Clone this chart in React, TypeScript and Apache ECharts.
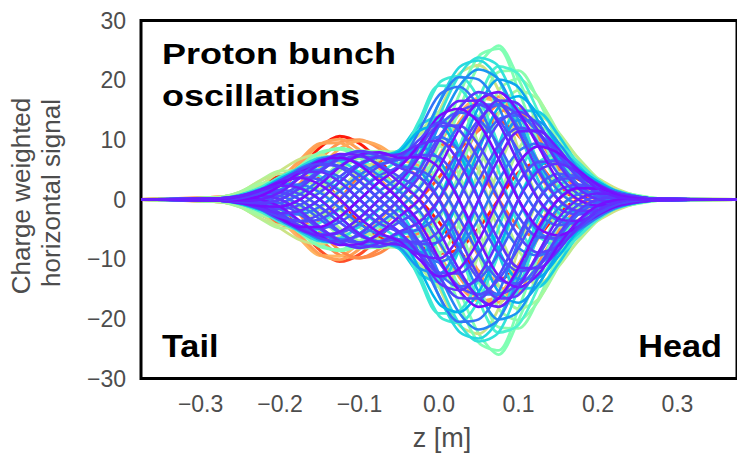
import React, { useEffect, useRef } from 'react';
import * as echarts from 'echarts';

// z positions along the bunch [m]
const zGrid = [-0.375, -0.275, -0.25, -0.225, -0.2, -0.175, -0.15, -0.125, -0.1, -0.075, -0.05, -0.025, 0, 0.025, 0.05, 0.075, 0.1, 0.125, 0.15, 0.175, 0.2, 0.225, 0.25, 0.275, 0.375];

// red traces (largest tail amplitude)
const rd1 = [0, -0.2, -0.4, 0, 1.7, 5, 8.7, 10.6, 9.4, 6.5, 3, 0, -3.8, -8.5, -12, -13.5, -11, -6.4, -2.3, 0, 0.8, 0.7, 0.4, 0.1, 0];
const rd2 = [0, 0.2, 0.4, 0, -1.6, -4.9, -8.5, -10.4, -9.2, -6.3, -2.9, 0, 3.7, 8.2, 11.6, 13.1, 10.7, 6.2, 2.2, 0, -0.8, -0.7, -0.4, -0.1, 0];
const rd3 = [0, -0.2, -0.9, -2.5, -4.1, -5, -3.6, 0, 3.9, 6.5, 7.2, 8, 9.2, 8.5, 4.9, 0, -4.6, -6.4, -5.5, -3.5, -1.8, -0.7, -0.2, 0, 0];
const rd4 = [0, 0.2, 0.9, 2.4, 4, 4.9, 3.5, 0, -3.8, -6.3, -7, -7.8, -9, -8.3, -4.8, 0, 4.5, 6.2, 5.4, 3.4, 1.8, 0.7, 0.2, 0, 0];
// orange traces
const or1 = [0, -0.4, -0.9, -1.1, 0, 2.7, 6.7, 9.5, 10, 8.5, 5.8, 3.8, 0, -5.9, -12.1, -16.1, -15.5, -10.6, -5.3, -1.6, 0, 0.4, 0.3, 0.1, 0];
const or2 = [0, -0.2, 0, 1.1, 3.4, 6.6, 9.4, 9.5, 7.1, 3.5, 0, -3.8, -9.2, -14.3, -17, -16.1, -11, -4.4, 0, 1.6, 1.6, 0.9, 0.4, 0.1, 0];
const or3 = [0, 0.4, 0.9, 1.1, 0, -2.6, -6.6, -9.3, -9.8, -8.3, -5.7, -3.7, 0, 5.8, 11.9, 15.8, 15.2, 10.4, 5.2, 1.6, 0, -0.4, -0.3, -0.1, 0];
const or4 = [0, 0.2, 0, -1.1, -3.4, -6.6, -9.4, -9.5, -7.1, -3.5, 0, 3.8, 9.2, 14.3, 17, 16.1, 11, 4.4, 0, -1.6, -1.6, -0.9, -0.4, -0.1, 0];
const or5 = [0, -0.2, -0.2, 0.6, 2.7, 6, 9.2, 10.1, 8.3, 5.2, 1.6, -2, -7.3, -12.9, -16.7, -17.2, -12.9, -6.4, -1.5, 0.8, 1.2, 0.8, 0.4, 0.1, 0];
const or6 = [0, -0.4, -1, -1.6, -1, 1.4, 5.3, 8.5, 9.8, 9, 6.8, 5.6, 2.6, -3.1, -9.5, -14.5, -15.2, -11.3, -6.2, -2.4, -0.4, 0.2, 0.2, 0.1, 0];
const or7 = [0, 0.2, 0.2, -0.6, -2.7, -6, -9.2, -10.1, -8.3, -5.2, -1.6, 2, 7.3, 12.9, 16.7, 17.2, 12.9, 6.4, 1.5, -0.8, -1.2, -0.8, -0.4, -0.1, 0];
const or8 = [0, 0.4, 1, 1.6, 1, -1.4, -5.3, -8.5, -9.8, -9, -6.8, -5.6, -2.6, 3.1, 9.5, 14.5, 15.2, 11.3, 6.2, 2.4, 0.4, -0.2, -0.2, -0.1, 0];

// green traces (largest head amplitude)
const gr1 = [0, 0.4, 1.2, 2.3, 2, 0, -3.1, -6.1, -7.7, -8.1, -7.6, -7.8, -6.1, 0, 9.3, 18.3, 20.2, 17, 10.6, 5, 1.4, 0, -0.3, -0.1, 0];
const gr2 = [0, 0.3, 0.5, 0, -2, -4.8, -7.5, -8.6, -7.7, -5.8, -3.2, 0, 6.1, 14.9, 22.5, 25.8, 20.2, 12.1, 4.4, 0, -1.4, -1.2, -0.6, -0.2, 0];
const gr3 = [0, 0, -0.5, -2.3, -4.8, -6.8, -7.5, -6.1, -3.2, 0, 3.2, 7.8, 14.7, 21, 22.5, 18.3, 8.4, 0, -4.4, -5, -3.5, -1.7, -0.6, -0.1, 0];
const gr4 = [0, -0.3, -1.2, -3.2, -4.8, -4.8, -3.1, 0, 3.2, 5.8, 7.6, 11, 14.7, 14.9, 9.3, 0, -8.4, -12.1, -10.6, -7, -3.5, -1.2, -0.3, 0, 0];
const gr5 = [0, -0.4, -1.2, -2.3, -2, 0, 3.1, 6.1, 7.7, 8.1, 7.6, 7.8, 6.1, 0, -9.3, -18.3, -20.2, -17, -10.6, -5, -1.4, 0, 0.3, 0.1, 0];
const gr6 = [0, -0.3, -0.5, 0, 2, 4.8, 7.5, 8.6, 7.7, 5.8, 3.2, 0, -6.1, -14.9, -22.5, -26, -20.2, -12.1, -4.4, 0, 1.4, 1.2, 0.6, 0.2, 0];
const gr7 = [0, 0, 0.5, 2.3, 4.8, 6.8, 7.5, 6.1, 3.2, 0, -3.2, -7.8, -14.7, -21, -22.5, -18.3, -8.4, 0, 4.4, 5, 3.5, 1.7, 0.6, 0.1, 0];
const gr8 = [0, 0.3, 1.2, 3.2, 4.8, 4.8, 3.1, 0, -3.2, -5.8, -7.6, -11, -14.7, -14.9, -9.3, 0, 8.4, 12.1, 10.6, 7, 3.5, 1.2, 0.3, 0, 0];
const gr9 = [0, 0.4, 1.1, 1.8, 1, -1.4, -4.5, -7.1, -8.2, -7.9, -6.9, -6.2, -3.2, 4.2, 13.7, 21.4, 21.6, 16.7, 9.5, 3.9, 0.8, -0.3, -0.4, -0.2, 0];
const gr10 = [0, 0.2, 0.3, -0.6, -2.9, -5.6, -7.9, -8.4, -7, -4.5, -1.7, 2.2, 9, 17.4, 24, 25.3, 18.3, 9.5, 2.3, -1.4, -2.1, -1.4, -0.7, -0.2, 0];
const gr11 = [0, 0.3, 1.3, 3.1, 4.3, 3.8, 1.6, -1.7, -4.7, -6.7, -8.1, -10.8, -13.3, -11.8, -4.9, 5.2, 12.3, 14.1, 11.3, 6.9, 3.2, 1, 0.1, 0, 0];
const gr12 = [0, 0.4, 1.3, 2.7, 2.9, 1.4, -1.6, -4.8, -7, -7.9, -8.1, -9.1, -9, -4.2, 4.9, 14.4, 18.3, 16.7, 11.3, 5.8, 2.1, 0.3, -0.1, -0.1, 0];
const gr13 = [0, -0.4, -1.1, -1.8, -1, 1.4, 4.5, 7.1, 8.2, 7.9, 6.9, 6.2, 3.2, -4.2, -13.7, -21.4, -21.6, -16.7, -9.5, -3.9, -0.8, 0.3, 0.4, 0.2, 0];
const gr14 = [0, -0.2, -0.3, 0.6, 2.9, 5.6, 7.9, 8.4, 7, 4.5, 1.7, -2.2, -9, -17.4, -24, -25.3, -18.3, -9.5, -2.3, 1.4, 2.1, 1.4, 0.7, 0.2, 0];
const gr15 = [0, -0.3, -1.3, -3.1, -4.3, -3.8, -1.6, 1.7, 4.7, 6.7, 8.1, 10.8, 13.3, 11.8, 4.9, -5.2, -12.3, -14.1, -11.3, -6.9, -3.2, -1, -0.1, 0, 0];
const gr16 = [0, -0.4, -1.3, -2.7, -2.9, -1.4, 1.6, 4.8, 7, 7.9, 8.1, 9.1, 9, 4.2, -4.9, -14.4, -18.3, -16.7, -11.3, -5.8, -2.1, -0.3, 0.1, 0.1, 0];

// cyan traces
const cy1 = [0, 0.2, 0.6, 0.8, 0, -2.1, -5, -7.2, -8, -7.2, -5.9, -5.1, 0, 8.6, 16.9, 22.3, 21, 14.7, 7.7, 2.4, 0, -0.5, -0.4, -0.1, 0];
const cy2 = [0, 0.1, 0, -0.8, -2.7, -5.1, -7, -7.2, -5.7, -3, 0, 5.1, 13.8, 20.7, 23.8, 22.3, 14.9, 6.1, 0, -2.4, -2.3, -1.3, -0.5, -0.1, 0];
const cy3 = [0, -0.1, -0.6, -1.8, -3.8, -5.1, -5, -3, 0, 3, 5.9, 12.4, 19.5, 20.7, 16.9, 9.2, 0, -6.1, -7.7, -5.9, -3.3, -1.3, -0.4, 0, 0];
const cy4 = [0, -0.2, -0.8, -1.8, -2.7, -2.1, 0, 3, 5.7, 7.2, 8.3, 12.4, 13.8, 8.6, 0, -9.2, -14.9, -14.7, -10.8, -5.9, -2.3, -0.5, 0, 0, 0];
const cy5 = [0, -0.2, -0.6, -0.8, 0, 2.1, 5, 7.2, 8, 7.2, 5.9, 5.1, 0, -8.6, -16.9, -22.3, -21, -14.7, -7.7, -2.4, 0, 0.5, 0.4, 0.1, 0];
const cy6 = [0, -0.1, 0, 0.8, 2.7, 5.1, 7, 7.2, 5.7, 3, 0, -5.1, -13.8, -20.7, -23.8, -22.3, -14.9, -6.1, 0, 2.4, 2.3, 1.3, 0.5, 0.1, 0];
const cy7 = [0, 0.1, 0.6, 1.8, 3.8, 5.1, 5, 3, 0, -3, -5.9, -12.4, -19.5, -20.7, -16.9, -9.2, 0, 6.1, 7.7, 5.9, 3.3, 1.3, 0.4, 0, 0];
const cy8 = [0, 0.2, 0.8, 1.8, 2.7, 2.1, 0, -3, -5.7, -7.2, -8.3, -12.4, -13.8, -8.6, 0, 9.2, 14.9, 14.7, 10.8, 5.9, 2.3, 0.5, 0, 0, 0];
const cy9 = [0, 0, -0.2, -1.1, -3.2, -5.4, -6.9, -6.5, -4.5, -1.6, 1.7, 7.6, 16.2, 22.1, 23.3, 20.1, 11.8, 3.2, -2.2, -3.6, -2.7, -1.4, -0.5, -0.1, 0];
const cy10 = [0, -0.1, -0.7, -2, -3.7, -4.6, -3.9, -1.6, 1.6, 4.4, 6.9, 13.2, 19.1, 18.7, 13.3, 4.8, -4.2, -9, -9, -6.3, -3.2, -1.2, -0.3, 0, 0];
const cy11 = [0, 0, 0.2, 1.1, 3.2, 5.4, 6.9, 6.5, 4.5, 1.6, -1.7, -7.6, -16.2, -22.1, -23.3, -20.1, -11.8, -3.2, 2.2, 3.6, 2.7, 1.4, 0.5, 0.1, 0];
const cy12 = [0, 0.1, 0.7, 2, 3.7, 4.6, 3.9, 1.6, -1.6, -4.4, -6.9, -13.2, -19.1, -18.7, -13.3, -4.8, 4.2, 9, 9, 6.3, 3.2, 1.2, 0.3, 0, 0];

// blue traces
const bl1 = [0, 0.2, 0.6, 1.3, 1.3, 0, -2.6, -5.5, -7.4, -7.8, -7.4, -8.9, -6.7, 0, 8.3, 15.5, 17.3, 14.2, 8.8, 4, 1.1, 0, -0.2, -0.1, 0];
const bl2 = [0, 0.2, 0.5, 0.7, 0, -2, -4.8, -7.2, -8, -7.2, -5.7, -4.8, 0, 7.8, 15.5, 20.1, 18.8, 13.1, 6.8, 2.1, 0, -0.5, -0.4, -0.1, 0];
const bl3 = [0, 0.1, 0, -0.7, -2.5, -4.8, -6.8, -7.2, -5.7, -3, 0, 4.8, 12.4, 18.9, 21.8, 20.1, 13.3, 5.4, 0, -2.1, -2.1, -1.2, -0.5, -0.1, 0];
const bl4 = [0, 0, -0.3, -1.3, -3.2, -5.2, -6.3, -5.5, -3, 0, 3, 8.9, 16.1, 20.5, 20.1, 15.5, 7.1, 0, -3.6, -4, -2.8, -1.3, -0.5, -0.1, 0];
const bl5 = [0, -0.1, -0.5, -1.7, -3.5, -4.8, -4.8, -3, 0, 3, 5.7, 11.5, 17.5, 18.9, 15.5, 8.3, 0, -5.4, -6.8, -5.2, -3, -1.2, -0.4, 0, 0];
const bl6 = [0, -0.2, -0.7, -1.7, -2.5, -2, 0, 3, 5.7, 7.2, 8, 11.5, 12.4, 7.8, 0, -8.3, -13.3, -13.1, -9.6, -5.2, -2.1, -0.5, 0, 0, 0];
const bl7 = [0, -0.2, -0.6, -1.3, -1.3, 0, 2.6, 5.5, 7.4, 7.8, 7.4, 8.9, 6.7, 0, -8.3, -15.5, -17.3, -14.2, -8.8, -4, -1.1, 0, 0.2, 0.1, 0];
const bl8 = [0, -0.2, -0.5, -0.7, 0, 2, 4.8, 7.2, 8, 7.2, 5.7, 4.8, 0, -7.8, -15.5, -20.1, -18.8, -13.1, -6.8, -2.1, 0, 0.5, 0.4, 0.1, 0];
const bl9 = [0, -0.1, 0, 0.7, 2.5, 4.8, 6.8, 7.2, 5.7, 3, 0, -4.8, -12.4, -18.9, -21.8, -20.1, -13.3, -5.4, 0, 2.1, 2.1, 1.2, 0.5, 0.1, 0];
const bl10 = [0, 0, 0.3, 1.3, 3.2, 5.2, 6.3, 5.5, 3, 0, -3, -8.9, -16.1, -20.5, -20.1, -15.5, -7.1, 0, 3.6, 4, 2.8, 1.3, 0.5, 0.1, 0];
const bl11 = [0, 0.1, 0.5, 1.7, 3.5, 4.8, 4.8, 3, 0, -3, -5.7, -11.5, -17.5, -18.9, -15.5, -8.3, 0, 5.4, 6.8, 5.2, 3, 1.2, 0.4, 0, 0];
const bl12 = [0, 0.2, 0.7, 1.7, 2.5, 2, 0, -3, -5.7, -7.2, -8, -11.5, -12.4, -7.8, 0, 8.3, 13.3, 13.1, 9.6, 5.2, 2.1, 0.5, 0, 0, 0];

// blue-violet traces (intermediate phases)
const hp1 = [0, 0.2, 0.4, 0.8, 0.6, -0.9, -3.3, -5.6, -7.2, -7, -5.6, -5, -2.5, 3, 9.1, 13.4, 14.1, 11.1, 6.4, 2.5, 0.5, -0.2, -0.2, -0.1, 0];
const hp2 = [0, 0.2, 0.3, 0.3, -0.6, -2.5, -4.9, -6.7, -7.2, -5.9, -3.8, -1.8, 2.5, 8.3, 13.4, 15.9, 14.1, 9.4, 4.3, 0.9, -0.5, -0.6, -0.3, -0.1, 0];
const hp3 = [0, 0.1, 0.1, -0.3, -1.6, -3.7, -5.8, -6.7, -6.1, -4, -1.4, 1.8, 7.1, 12.4, 15.9, 15.9, 12, 6.3, 1.5, -0.9, -1.3, -0.8, -0.4, -0.1, 0];
const hp4 = [0, 0, -0.1, -0.8, -2.4, -4.4, -5.8, -5.6, -4.1, -1.4, 1.4, 5, 10.5, 14.6, 15.9, 13.4, 8.1, 2.3, -1.5, -2.5, -1.9, -1, -0.4, -0.1, 0];
const hp5 = [0, 0, -0.3, -1.2, -2.8, -4.4, -4.9, -3.8, -1.5, 1.4, 3.8, 7.5, 12.3, 14.6, 13.4, 9.1, 2.9, -2.3, -4.3, -3.7, -2.3, -1, -0.3, -0.1, 0];
const hp6 = [0, -0.1, -0.4, -1.4, -2.8, -3.7, -3.3, -1.4, 1.5, 4, 5.6, 8.8, 12.3, 12.4, 9.1, 3.2, -2.9, -6.3, -6.4, -4.4, -2.3, -0.8, -0.2, 0, 0];
const hp7 = [0, -0.2, -0.5, -1.4, -2.4, -2.5, -1.2, 1.4, 4.1, 5.9, 6.7, 8.8, 10.5, 8.3, 3.2, -3.2, -8.1, -9.4, -7.5, -4.4, -1.9, -0.6, -0.1, 0, 0];
const hp8 = [0, -0.2, -0.5, -1.2, -1.6, -0.9, 1.2, 3.8, 6.1, 7, 6.7, 7.5, 7.1, 3, -3.2, -9.1, -12, -11.1, -7.5, -3.7, -1.3, -0.2, 0.1, 0.1, 0];
const hp9 = [0, -0.2, -0.4, -0.8, -0.6, 0.9, 3.3, 5.6, 7.2, 7, 5.6, 5, 2.5, -3, -9.1, -13.4, -14.1, -11.1, -6.4, -2.5, -0.5, 0.2, 0.2, 0.1, 0];
const hp10 = [0, -0.2, -0.3, -0.3, 0.6, 2.5, 4.9, 6.7, 7.2, 5.9, 3.8, 1.8, -2.5, -8.3, -13.4, -15.9, -14.1, -9.4, -4.3, -0.9, 0.5, 0.6, 0.3, 0.1, 0];
const hp11 = [0, -0.1, -0.1, 0.3, 1.6, 3.7, 5.8, 6.7, 6.1, 4, 1.4, -1.8, -7.1, -12.4, -15.9, -15.9, -12, -6.3, -1.5, 0.9, 1.3, 0.8, 0.4, 0.1, 0];
const hp12 = [0, 0, 0.1, 0.8, 2.4, 4.4, 5.8, 5.6, 4.1, 1.4, -1.4, -5, -10.5, -14.6, -15.9, -13.4, -8.1, -2.3, 1.5, 2.5, 1.9, 1, 0.4, 0.1, 0];
const hp13 = [0, 0, 0.3, 1.2, 2.8, 4.4, 4.9, 3.8, 1.5, -1.4, -3.8, -7.5, -12.3, -14.6, -13.4, -9.1, -2.9, 2.3, 4.3, 3.7, 2.3, 1, 0.3, 0.1, 0];
const hp14 = [0, 0.1, 0.4, 1.4, 2.8, 3.7, 3.3, 1.4, -1.5, -4, -5.6, -8.8, -12.3, -12.4, -9.1, -3.2, 2.9, 6.3, 6.4, 4.4, 2.3, 0.8, 0.2, 0, 0];
const hp15 = [0, 0.2, 0.5, 1.4, 2.4, 2.5, 1.2, -1.4, -4.1, -5.9, -6.7, -8.8, -10.5, -8.3, -3.2, 3.2, 8.1, 9.4, 7.5, 4.4, 1.9, 0.6, 0.1, 0, 0];
const hp16 = [0, 0.2, 0.5, 1.2, 1.6, 0.9, -1.2, -3.8, -6.1, -7, -6.7, -7.5, -7.1, -3, 3.2, 9.1, 12, 11.1, 7.5, 3.7, 1.3, 0.2, -0.1, -0.1, 0];

// purple traces (drawn last, on top)
const pu1 = [0, 0.2, 0.6, 1.1, 1.2, 0, -2.5, -5.4, -7.5, -7.9, -7, -7.1, -5.3, 0, 6.8, 12.8, 14.7, 12.5, 7.8, 3.6, 1, 0, -0.2, -0.1, 0];
const pu2 = [0, 0.2, 0.4, 0.6, 0, -1.9, -4.6, -7, -8.1, -7.3, -5.4, -3.8, 0, 6.3, 12.8, 16.6, 16, 11.5, 6, 1.9, 0, -0.4, -0.3, -0.1, 0];
const pu3 = [0, 0.1, 0.2, 0, -1.2, -3.6, -6, -7.6, -7.5, -5.6, -2.9, 0, 5.3, 11.7, 16.6, 18, 14.7, 8.9, 3.2, 0, -1, -0.8, -0.4, -0.1, 0];
const pu4 = [0, 0.1, 0, -0.6, -2.3, -4.6, -6.5, -7, -5.8, -3, 0, 3.8, 9.9, 15.2, 18, 16.6, 11.4, 4.8, 0, -1.9, -1.8, -1, -0.4, -0.1, 0];
const pu5 = [0, 0, -0.2, -1.1, -2.9, -5, -6, -5.4, -3.1, 0, 2.9, 7.1, 12.9, 16.5, 16.6, 12.8, 6.1, 0, -3.2, -3.6, -2.4, -1.1, -0.4, -0.1, 0];
const pu6 = [0, -0.1, -0.4, -1.5, -3.2, -4.6, -4.6, -2.9, 0, 3, 5.4, 9.2, 14, 15.2, 12.8, 6.8, 0, -4.8, -6, -4.6, -2.6, -1, -0.3, 0, 0];
const pu7 = [0, -0.1, -0.6, -1.6, -2.9, -3.6, -2.5, 0, 3.1, 5.6, 7, 10, 12.9, 11.7, 6.8, 0, -6.1, -8.9, -7.8, -5, -2.4, -0.8, -0.2, 0, 0];
const pu8 = [0, -0.2, -0.6, -1.5, -2.3, -1.9, 0, 2.9, 5.8, 7.3, 7.6, 9.2, 9.9, 6.3, 0, -6.8, -11.4, -11.5, -8.5, -4.6, -1.8, -0.4, 0, 0, 0];
const pu9 = [0, -0.2, -0.6, -1.1, -1.2, 0, 2.5, 5.4, 7.5, 7.9, 7, 7.1, 5.3, 0, -6.8, -12.8, -14.7, -12.5, -7.8, -3.6, -1, 0, 0.2, 0.1, 0];
const pu10 = [0, -0.2, -0.4, -0.6, 0, 1.9, 4.6, 7, 8.1, 7.3, 5.4, 3.8, 0, -6.3, -12.8, -16.6, -16, -11.5, -6, -1.9, 0, 0.4, 0.3, 0.1, 0];
const pu11 = [0, -0.1, -0.2, 0, 1.2, 3.6, 6, 7.6, 7.5, 5.6, 2.9, 0, -5.3, -11.7, -16.6, -18, -14.7, -8.9, -3.2, 0, 1, 0.8, 0.4, 0.1, 0];
const pu12 = [0, -0.1, 0, 0.6, 2.3, 4.6, 6.5, 7, 5.8, 3, 0, -3.8, -9.9, -15.2, -18, -16.6, -11.4, -4.8, 0, 1.9, 1.8, 1, 0.4, 0.1, 0];
const pu13 = [0, 0, 0.2, 1.1, 2.9, 5, 6, 5.4, 3.1, 0, -2.9, -7.1, -12.9, -16.5, -16.6, -12.8, -6.1, 0, 3.2, 3.6, 2.4, 1.1, 0.4, 0.1, 0];
const pu14 = [0, 0.1, 0.4, 1.5, 3.2, 4.6, 4.6, 2.9, 0, -3, -5.4, -9.2, -14, -15.2, -12.8, -6.8, 0, 4.8, 6, 4.6, 2.6, 1, 0.3, 0, 0];
const pu15 = [0, 0.1, 0.6, 1.6, 2.9, 3.6, 2.5, 0, -3.1, -5.6, -7, -10, -12.9, -11.7, -6.8, 0, 6.1, 8.9, 7.8, 5, 2.4, 0.8, 0.2, 0, 0];
const pu16 = [0, 0.2, 0.6, 1.5, 2.3, 1.9, 0, -2.9, -5.8, -7.3, -7.6, -9.2, -9.9, -6.3, 0, 6.8, 11.4, 11.5, 8.5, 4.6, 1.8, 0.4, 0, 0, 0];

const xTickValues = [-0.3, -0.2, -0.1, 0, 0.1, 0.2, 0.3];

// drawing order: red first, purple last
const traces: { vals: number[]; color: string; w: number }[] = [
  { vals: rd1, color: '#ff1a0a', w: 3 },
  { vals: rd2, color: '#ff4f28', w: 3 },
  { vals: rd3, color: '#ff743b', w: 3 },
  { vals: rd4, color: '#ff2814', w: 3 },
  { vals: or1, color: '#ff964f', w: 3 },
  { vals: or2, color: '#ffa458', w: 3 },
  { vals: or3, color: '#ff8a48', w: 3 },
  { vals: or4, color: '#ffb462', w: 3 },
  { vals: or5, color: '#ff9f55', w: 3 },
  { vals: or6, color: '#ffab5c', w: 3 },
  { vals: or7, color: '#ff9f55', w: 3 },
  { vals: or8, color: '#ff8a48', w: 3 },
  { vals: gr1, color: '#99fca5', w: 2.8 },
  { vals: gr2, color: '#80ffb4', w: 2.8 },
  { vals: gr3, color: '#cce385', w: 2.8 },
  { vals: gr4, color: '#b3f396', w: 2.8 },
  { vals: gr5, color: '#99fca5', w: 2.8 },
  { vals: gr6, color: '#80ffb4', w: 2.8 },
  { vals: gr7, color: '#cce385', w: 2.8 },
  { vals: gr8, color: '#b3f396', w: 2.8 },
  { vals: gr9, color: '#8cfdad', w: 2.8 },
  { vals: gr10, color: '#80ffb4', w: 2.8 },
  { vals: gr11, color: '#bfeb8d', w: 2.8 },
  { vals: gr12, color: '#a6f89e', w: 2.8 },
  { vals: gr13, color: '#8cfdad', w: 2.8 },
  { vals: gr14, color: '#80ffb4', w: 2.8 },
  { vals: gr15, color: '#bfeb8d', w: 2.8 },
  { vals: gr16, color: '#a6f89e', w: 2.8 },
  { vals: cy1, color: '#4df3ce', w: 2.7 },
  { vals: cy2, color: '#33e3da', w: 2.7 },
  { vals: cy3, color: '#40ebd4', w: 2.7 },
  { vals: cy4, color: '#1acee3', w: 2.7 },
  { vals: cy5, color: '#4df3ce', w: 2.7 },
  { vals: cy6, color: '#33e3da', w: 2.7 },
  { vals: cy7, color: '#40ebd4', w: 2.7 },
  { vals: cy8, color: '#1acee3', w: 2.7 },
  { vals: cy9, color: '#26d9df', w: 2.7 },
  { vals: cy10, color: '#40ebd4', w: 2.7 },
  { vals: cy11, color: '#26d9df', w: 2.7 },
  { vals: cy12, color: '#40ebd4', w: 2.7 },
  { vals: bl1, color: '#00b4ec', w: 2.6 },
  { vals: bl2, color: '#0da5ef', w: 2.6 },
  { vals: bl3, color: '#1a96f2', w: 2.6 },
  { vals: bl4, color: '#2785f5', w: 2.6 },
  { vals: bl5, color: '#3374f8', w: 2.6 },
  { vals: bl6, color: '#00b4ec', w: 2.6 },
  { vals: bl7, color: '#0da5ef', w: 2.6 },
  { vals: bl8, color: '#1a96f2', w: 2.6 },
  { vals: bl9, color: '#2785f5', w: 2.6 },
  { vals: bl10, color: '#3374f8', w: 2.6 },
  { vals: bl11, color: '#00b4ec', w: 2.6 },
  { vals: bl12, color: '#1a96f2', w: 2.6 },
  { vals: hp1, color: '#3f62fa', w: 2.6 },
  { vals: hp2, color: '#4d4ffc', w: 2.6 },
  { vals: hp3, color: '#3374f8', w: 2.6 },
  { vals: hp4, color: '#4d4ffc', w: 2.6 },
  { vals: hp5, color: '#3f62fa', w: 2.6 },
  { vals: hp6, color: '#4d4ffc', w: 2.6 },
  { vals: hp7, color: '#3374f8', w: 2.6 },
  { vals: hp8, color: '#4d4ffc', w: 2.6 },
  { vals: hp9, color: '#3f62fa', w: 2.6 },
  { vals: hp10, color: '#4d4ffc', w: 2.6 },
  { vals: hp11, color: '#3374f8', w: 2.6 },
  { vals: hp12, color: '#4d4ffc', w: 2.6 },
  { vals: hp13, color: '#3f62fa', w: 2.6 },
  { vals: hp14, color: '#4d4ffc', w: 2.6 },
  { vals: hp15, color: '#3374f8', w: 2.6 },
  { vals: hp16, color: '#4d4ffc', w: 2.6 },
  { vals: pu1, color: '#5247fc', w: 2.6 },
  { vals: pu2, color: '#6130fe', w: 2.6 },
  { vals: pu3, color: '#7510ff', w: 2.6 },
  { vals: pu4, color: '#5a3cfd', w: 2.6 },
  { vals: pu5, color: '#6a20ff', w: 2.6 },
  { vals: pu6, color: '#7a08ff', w: 2.6 },
  { vals: pu7, color: '#5247fc', w: 2.6 },
  { vals: pu8, color: '#6130fe', w: 2.6 },
  { vals: pu9, color: '#7510ff', w: 2.6 },
  { vals: pu10, color: '#5a3cfd', w: 2.6 },
  { vals: pu11, color: '#6a20ff', w: 2.6 },
  { vals: pu12, color: '#7a08ff', w: 2.6 },
  { vals: pu13, color: '#5247fc', w: 2.6 },
  { vals: pu14, color: '#6130fe', w: 2.6 },
  { vals: pu15, color: '#7510ff', w: 2.6 },
  { vals: pu16, color: '#6a20ff', w: 2.6 },
];

const FONT = '"Liberation Sans", Arial, Helvetica, sans-serif';
const GRAY = '#4d4d4d';

const fmtX = (v: number) => {
  const s = Math.abs(v).toFixed(1);
  return v < -1e-9 ? '\u2212' + s : s;
};
const fmtY = (v: number) => (v < 0 ? '\u2212' + Math.abs(v) : String(v));

export default function App() {
  const ref = useRef<HTMLDivElement>(null);
  useEffect(() => {
    document.body.style.margin = '0';
    const chart = echarts.init(ref.current!, undefined, { renderer: 'svg' });
    chart.setOption({
      animation: false,
      backgroundColor: '#ffffff',
      grid: {
        left: 141,
        top: 20.5,
        width: 603,
        height: 358,
        show: true,
        borderColor: '#000',
        borderWidth: 3,
        backgroundColor: 'transparent',
      },
      xAxis: {
        type: 'value',
        min: -0.375,
        max: 0.375,
        axisLine: { show: false },
        axisTick: { show: false },
        splitLine: { show: false },
        axisLabel: {
          customValues: xTickValues,
          formatter: fmtX,
          fontSize: 23,
          color: GRAY,
          fontFamily: FONT,
          margin: 14,
        },
      },
      yAxis: {
        type: 'value',
        min: -30,
        max: 30,
        interval: 10,
        axisLine: { show: false },
        axisTick: { show: false },
        splitLine: { show: false },
        axisLabel: {
          formatter: fmtY,
          fontSize: 23,
          color: GRAY,
          fontFamily: FONT,
          margin: 15,
        },
      },
      series: traces.map((t, i) => ({
        type: 'line',
        name: 'trace ' + (i + 1),
        data: zGrid.map((z, j) => [z, t.vals[j]]),
        showSymbol: false,
        symbol: 'none',
        smooth: 0.3,
        silent: true,
        lineStyle: { color: t.color, width: t.w },
      })),
      graphic: [
        {
          type: 'text', x: 162, y: 54, scaleX: 1.2, z: 100,
          style: { text: 'Proton bunch', fontSize: 30, fontWeight: 'bold', fontFamily: FONT, fill: '#000', align: 'left', verticalAlign: 'middle' },
        },
        {
          type: 'text', x: 162, y: 95.6, scaleX: 1.2, z: 100,
          style: { text: 'oscillations', fontSize: 30, fontWeight: 'bold', fontFamily: FONT, fill: '#000', align: 'left', verticalAlign: 'middle' },
        },
        {
          type: 'text', x: 162, y: 346, scaleX: 1.07, z: 100,
          style: { text: 'Tail', fontSize: 32, fontWeight: 'bold', fontFamily: FONT, fill: '#000', align: 'left', verticalAlign: 'middle' },
        },
        {
          type: 'text', x: 722, y: 346, scaleX: 1.07, z: 100,
          style: { text: 'Head', fontSize: 32, fontWeight: 'bold', fontFamily: FONT, fill: '#000', align: 'right', verticalAlign: 'middle' },
        },
        {
          type: 'text', x: 442, y: 437.6, z: 100,
          style: { text: 'z [m]', fontSize: 27, fontFamily: FONT, fill: GRAY, align: 'center', verticalAlign: 'middle' },
        },
        {
          type: 'text', x: 20.6, y: 196, rotation: Math.PI / 2, z: 100,
          style: { text: 'Charge weighted', fontSize: 26, fontFamily: FONT, fill: GRAY, align: 'center', verticalAlign: 'middle' },
        },
        {
          type: 'text', x: 50.6, y: 193, rotation: Math.PI / 2, z: 100,
          style: { text: 'horizontal signal', fontSize: 26, fontFamily: FONT, fill: GRAY, align: 'center', verticalAlign: 'middle' },
        },
      ],
    });
    return () => chart.dispose();
  }, []);
  return <div ref={ref} style={{ width: 737, height: 457 }} />;
}
